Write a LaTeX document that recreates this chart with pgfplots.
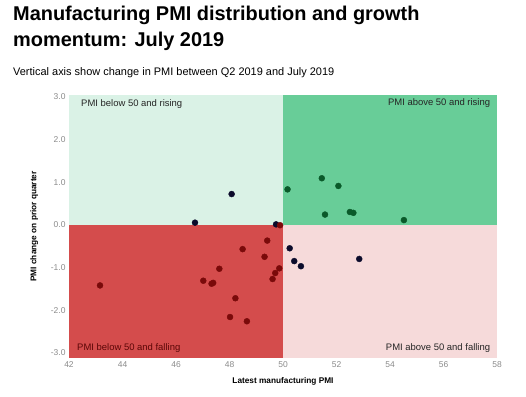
\documentclass[border=0pt]{standalone}
\usepackage{pgfplots}
\pgfplotsset{compat=1.18}
\usepackage{fontspec}
\setmainfont{Liberation Sans}
\definecolor{qul}{HTML}{DAF2E6}
\definecolor{qur}{HTML}{68CD98}
\definecolor{qll}{HTML}{D44C4C}
\definecolor{qlr}{HTML}{F6DADA}
\definecolor{dnavy}{HTML}{0B0B2B}
\definecolor{dgreen}{HTML}{0A5A2A}
\definecolor{dred}{HTML}{7A0A0A}
\definecolor{tickgray}{HTML}{8A8A8A}
\begin{document}
\begin{tikzpicture}[x=1bp,y=1bp]
\useasboundingbox (0,0) rectangle (526,396);
\node[anchor=base west,font=\fontsize{20}{26}\selectfont\bfseries,inner sep=0pt] at (13,376)
 {Manufacturing PMI distribution and growth};
\node[anchor=base west,font=\fontsize{20}{26}\selectfont\bfseries,inner sep=0pt] at (13,350)
 {momentum: July 2019};
\node[anchor=base west,font=\fontsize{11}{13}\selectfont,inner sep=0pt] at (13,320.5)
 {Vertical axis show change in PMI between Q2 2019 and July 2019};
\begin{axis}[
  at={(69bp,38bp)}, anchor=south west,
  scale only axis, width=428bp, height=263bp,
  xmin=42, xmax=58, ymin=-3.12, ymax=3.04,
  xtick={42,44,...,58}, ytick={-3,-2,...,3},
  yticklabel={\pgfmathprintnumber[fixed,fixed zerofill,precision=1]{\tick}},
  /pgf/number format/assume math mode=true,
  ticklabel style={font=\fontsize{8.5}{10}\selectfont, text=tickgray},
  axis line style={draw=none}, tick style={draw=none},
  xlabel={\textbf{Latest manufacturing PMI}},
  ylabel={\textbf{PMI change on prior quarter}},
  xlabel style={font=\fontsize{8.3}{10}\selectfont, yshift=-3pt},
  ylabel style={font=\fontsize{8.3}{10}\selectfont, yshift=6pt},
  clip=false,
]
\fill[qul] (axis cs:42,0) rectangle (axis cs:50,3.04);
\fill[qur] (axis cs:50,0) rectangle (axis cs:58,3.04);
\fill[qll] (axis cs:42,-3.12) rectangle (axis cs:50,0);
\fill[qlr] (axis cs:50,-3.12) rectangle (axis cs:58,0);
\node[anchor=west,inner sep=0pt,font=\fontsize{9.5}{11}\selectfont,text=black!85] at (axis cs:42.45,2.82) {PMI below 50 and rising};
\node[anchor=east,inner sep=0pt,font=\fontsize{9.5}{11}\selectfont,text=black!85] at (axis cs:57.75,2.84) {PMI above 50 and rising};
\node[anchor=west,inner sep=0pt,font=\fontsize{9.5}{11}\selectfont,text=dred!75!black] at (axis cs:42.3,-2.88) {PMI below 50 and falling};
\node[anchor=east,inner sep=0pt,font=\fontsize{9.5}{11}\selectfont,text=black!85] at (axis cs:57.75,-2.88) {PMI above 50 and falling};
\addplot[only marks, mark=*, mark size=3pt, mark options={fill=dnavy, draw=dnavy}] coordinates {
(48.08,0.72) (46.71,0.05) (49.74,0.01) (50.25,-0.55) (50.42,-0.85) (50.67,-0.97) (52.85,-0.80)
};
\addplot[only marks, mark=*, mark size=3pt, mark options={fill=dgreen, draw=dgreen}] coordinates {
(50.17,0.83) (51.45,1.09) (52.07,0.91) (51.57,0.24) (52.50,0.30) (52.63,0.28) (54.52,0.11)
};
\addplot[only marks, mark=*, mark size=3pt, mark options={fill=dred, draw=dred}] coordinates {
(49.89,-0.01) (49.41,-0.37) (48.49,-0.57) (49.31,-0.75) (47.62,-1.03) (49.86,-1.02) (49.71,-1.13)
(49.61,-1.27) (47.02,-1.31) (47.33,-1.38) (47.39,-1.36) (43.16,-1.42) (48.22,-1.72) (48.02,-2.16) (48.65,-2.26)
};
\end{axis}
\end{tikzpicture}
\end{document}
